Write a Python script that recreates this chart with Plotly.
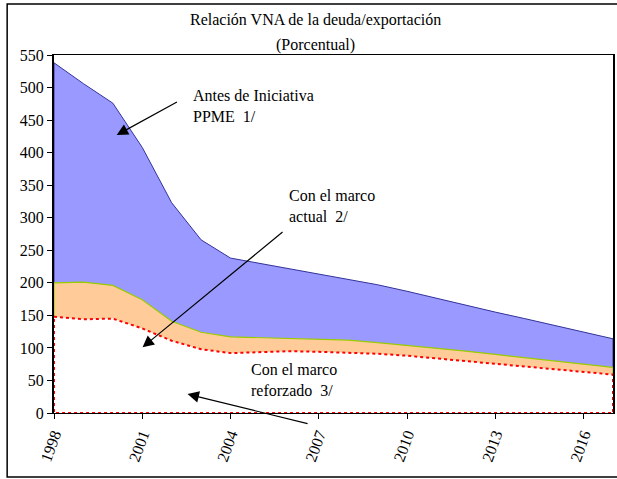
import plotly.graph_objects as go

# Data (percent)
years = list(range(1998, 2018))
antes_ppme = [538, 506, 476, 408, 323, 266, 238, 230, 222, 214,
              206, 197, 187, 176, 165, 155, 145, 135, 124, 114]
marco_actual = [200, 201, 196, 174, 141, 124, 117, 116, 115, 114,
                112, 108, 104, 100, 95, 90, 85, 80, 75, 70]
marco_reforzado = [148, 144, 145, 130, 111, 98, 92, 93, 95, 94,
                   93, 91, 88, 84, 80, 76, 72, 68, 64, 59]
tick_years = [1998, 2001, 2004, 2007, 2010, 2013, 2016]

FONT = "Liberation Serif"


def closed_area(vals):
    # excel-style area outline: top line, right edge, baseline, left edge
    xs = years + [years[-1], years[0], years[0]]
    ys = vals + [0, 0, vals[0]]
    return xs, ys


fig = go.Figure()

x, y = closed_area(antes_ppme)
fig.add_trace(go.Scatter(x=x, y=y, mode="lines", fill="toself",
                         fillcolor="#9999FF", line=dict(color="#333399", width=1),
                         hoverinfo="skip", showlegend=False))
x, y = closed_area(marco_actual)
fig.add_trace(go.Scatter(x=x, y=y, mode="lines", fill="toself",
                         fillcolor="#FFCC99", line=dict(color="#99CC00", width=1.2),
                         hoverinfo="skip", showlegend=False))
x, y = closed_area(marco_reforzado)
fig.add_trace(go.Scatter(x=x, y=y, mode="lines", fill="toself",
                         fillcolor="#FFFFFF", line=dict(color="#FF0000", width=2, dash="dot"),
                         hoverinfo="skip", showlegend=False))

txt_font = dict(family=FONT, size=16, color="black")

# title, two lines placed separately (excel spacing)
fig.add_annotation(x=0.468, y=1.0978, xref="paper", yref="paper",
                   text="Relación VNA de la deuda/exportación", showarrow=False,
                   xanchor="center", yanchor="middle", font=txt_font)
fig.add_annotation(x=0.468, y=1.028, xref="paper", yref="paper",
                   text="(Porcentual)", showarrow=False,
                   xanchor="center", yanchor="middle", font=txt_font)

# label texts
fig.add_annotation(x=2002.67, y=504, text="Antes de Iniciativa<br>PPME  1/",
                   showarrow=False, xanchor="left", yanchor="top", align="left", font=txt_font)
fig.add_annotation(x=2005.92, y=351, text="Con el marco<br>actual  2/",
                   showarrow=False, xanchor="left", yanchor="top", align="left", font=txt_font)
fig.add_annotation(x=2004.64, y=83, text="Con el marco<br>reforzado  3/",
                   showarrow=False, xanchor="left", yanchor="top", align="left", font=txt_font)

# arrows
arrows = [((2000.13, 427), (2002.23, 479)),
          ((2001.01, 101), (2005.82, 280)),
          ((2002.54, 29), (2006.67, -17))]
for (hx, hy), (tx, ty) in arrows:
    fig.add_annotation(x=hx, y=hy, ax=tx, ay=ty, xref="x", yref="y",
                       axref="x", ayref="y", text="", showarrow=True,
                       arrowhead=2, arrowsize=1.9, arrowwidth=1.2, arrowcolor="black")

# outer frame of the chart
fig.add_shape(type="rect", xref="paper", yref="paper",
              x0=-0.0838, x1=1.01, y0=-0.179, y1=1.1425,
              line=dict(color="black", width=1.5), layer="above")

fig.update_layout(
    width=617, height=479,
    margin=dict(l=54, r=2, t=55, b=66),
    paper_bgcolor="white", plot_bgcolor="white",
    font=dict(family=FONT, size=16, color="black"),
    showlegend=False,
)
fig.update_xaxes(range=[1998, 2017], tickvals=tick_years, tickangle=-70,
                 ticks="outside", ticklen=5, tickcolor="black",
                 showgrid=False, zeroline=False, showline=True,
                 linecolor="black", linewidth=1, mirror=True,
                 tickfont=dict(family=FONT, size=16, color="black"))
fig.update_yaxes(range=[0, 550], dtick=50, ticks="outside", ticklen=5,
                 tickcolor="black", showgrid=False, zeroline=False,
                 showline=True, linecolor="black", linewidth=2, mirror=True,
                 tickfont=dict(family=FONT, size=16, color="black"))

fig.write_html("out.html", config={"displayModeBar": False},
               post_script="document.body.style.margin='0';")
